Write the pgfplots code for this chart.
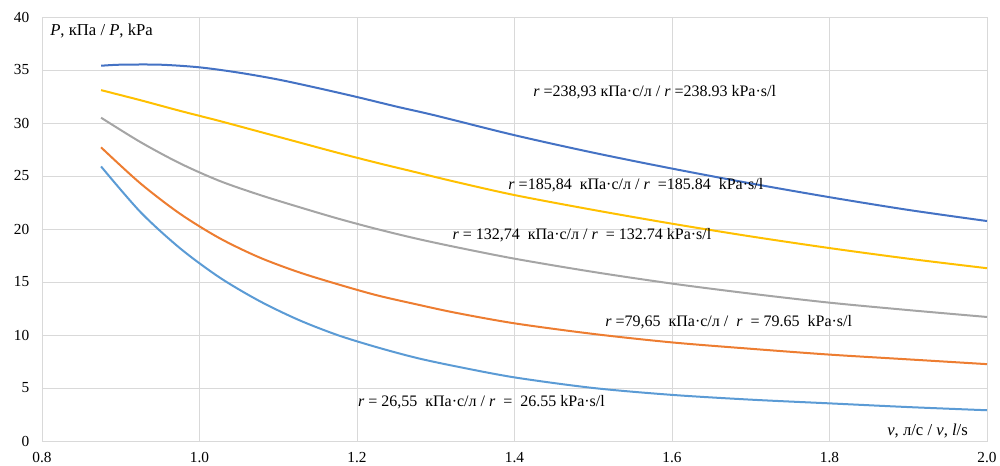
\documentclass[border=0pt]{standalone}
\usepackage{fontspec}
\setmainfont{Liberation Serif}
\usepackage{pgfplots}
\pgfplotsset{compat=1.18}
\definecolor{cBlue}{HTML}{4472C4}
\definecolor{cOrange}{HTML}{ED7D31}
\definecolor{cGray}{HTML}{A5A5A5}
\definecolor{cYellow}{HTML}{FFC000}
\definecolor{cLBlue}{HTML}{5B9BD5}
\definecolor{cGrid}{HTML}{D9D9D9}
\begin{document}
\begin{tikzpicture}
\path[use as bounding box] (-31.5pt,-18.75pt) rectangle (718.5pt,330.75pt);
\begin{axis}[
  scale only axis,
  width=708.75pt, height=318pt,
  xmin=0.8, xmax=2.0, ymin=0, ymax=40,
  xtick={0.8,1.0,...,2.01}, ytick={0,5,...,40},
  grid=major,
  major grid style={draw=cGrid, line width=0.6pt},
  axis line style={draw=cGrid, line width=0.6pt},
  tick style={draw=none},
  /pgf/number format/assume math mode=true,
  xticklabel style={/pgf/number format/fixed, /pgf/number format/fixed zerofill, /pgf/number format/precision=1, font=\fontsize{11.5}{13}\selectfont, yshift=-5pt},
  yticklabel style={font=\fontsize{11.5}{13}\selectfont, xshift=-6pt},
  every axis plot/.append style={line width=1.5pt, smooth, mark=none},
  clip=false,
]
\addplot[cBlue] coordinates {(0.875,35.4) (0.9,35.5) (0.95,35.5) (1.0,35.25) (1.05,34.75) (1.1,34.1) (1.15,33.3) (1.2,32.45) (1.25,31.55) (1.3,30.7) (1.4,28.85) (1.5,27.2) (1.6,25.7) (1.7,24.3) (1.8,23.0) (1.9,21.8) (2.0,20.75)};
\addplot[cYellow] coordinates {(0.875,33.1) (0.925,32.15) (0.975,31.15) (1.025,30.2) (1.075,29.2) (1.125,28.2) (1.175,27.2) (1.225,26.25) (1.275,25.35) (1.325,24.45) (1.4,23.2) (1.5,21.8) (1.6,20.5) (1.7,19.3) (1.8,18.2) (1.9,17.2) (2.0,16.3)};
\addplot[cGray] coordinates {(0.875,30.5) (0.925,28.2) (0.975,26.2) (1.025,24.55) (1.075,23.25) (1.125,22.1) (1.175,21.0) (1.225,20.0) (1.275,19.1) (1.325,18.3) (1.4,17.2) (1.5,15.95) (1.6,14.85) (1.7,13.9) (1.8,13.05) (1.9,12.35) (2.0,11.7)};
\addplot[cOrange] coordinates {(0.875,27.7) (0.925,24.3) (0.975,21.45) (1.025,19.15) (1.075,17.35) (1.125,15.95) (1.175,14.8) (1.225,13.75) (1.275,12.9) (1.325,12.1) (1.4,11.1) (1.5,10.1) (1.6,9.3) (1.7,8.7) (1.8,8.15) (1.9,7.7) (2.0,7.25)};
\addplot[cLBlue] coordinates {(0.875,25.9) (0.925,21.6) (0.975,18.2) (1.025,15.45) (1.075,13.25) (1.125,11.45) (1.175,10.0) (1.225,8.85) (1.275,7.85) (1.325,7.05) (1.4,6.0) (1.5,5.0) (1.6,4.35) (1.7,3.9) (1.8,3.55) (1.9,3.2) (2.0,2.9)};
\begin{scope}[every node/.style={font=\fontsize{12}{14}\selectfont, anchor=west, inner sep=0pt}]
\node at (axis cs:1.4235,32.9) {\textit{r} =238,93\ кПа·с/л\ / \textit{r} =238.93\ kPa·s/l};
\node at (axis cs:1.392,24.15) {\textit{r} =185,84\ \ кПа·с/л\ / \textit{r}\ \ =185.84\ \ kPa·s/l};
\node at (axis cs:1.321,19.4) {\textit{r} = 132,74\ \ кПа·с/л\ / \textit{r}\ \ = 132.74 kPa·s/l};
\node at (axis cs:1.515,11.2) {\textit{r} =79,65\ \ кПа·с/л\ /\ \ \textit{r}\ \ = 79.65\ \ kPa·s/l};
\node at (axis cs:1.201,3.7) {\textit{r} = 26,55\ \ кПа·с/л / \textit{r}\ \ =\ \ 26.55 kPa·s/l};
\end{scope}
\begin{scope}[every node/.style={font=\fontsize{12.5}{14}\selectfont, inner sep=0pt}]
\node[anchor=west] at (rel axis cs:0.0085,0.967) {\textit{P}, кПа / \textit{P}, kPa};
\node[anchor=south east] at (rel axis cs:0.98,0.007) {\textit{v}, л/с / \textit{v}, \textit{l}/s};
\end{scope}
\end{axis}
\end{tikzpicture}
\end{document}
